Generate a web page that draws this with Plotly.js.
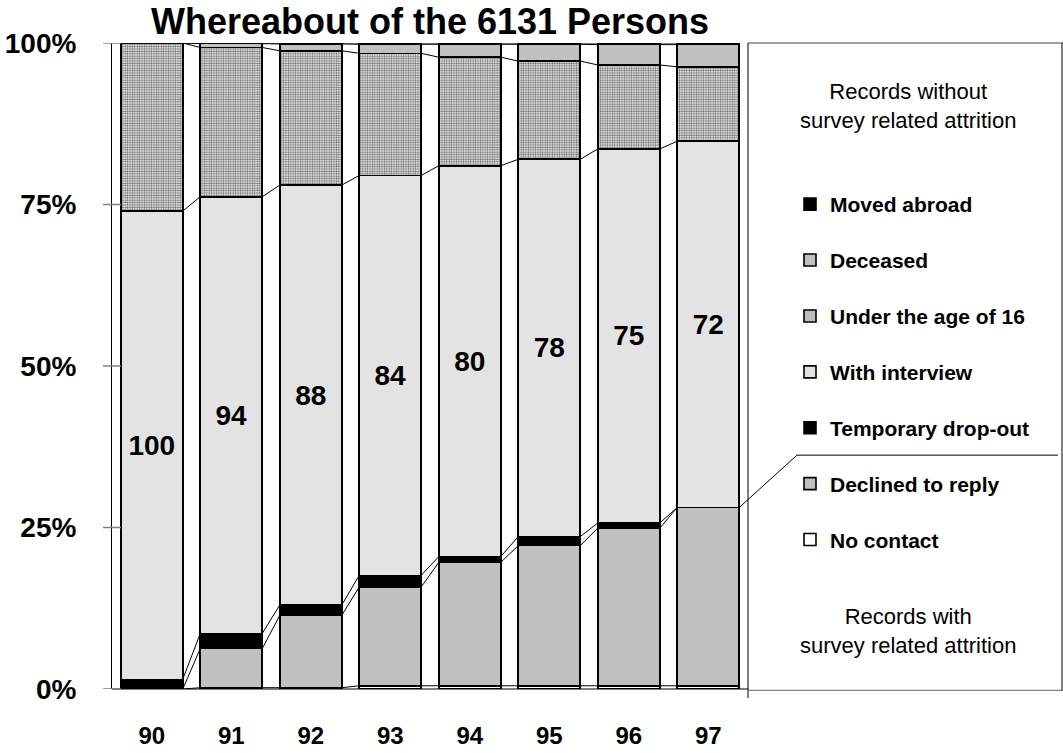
<!DOCTYPE html>
<html>
<head>
<meta charset="utf-8">
<script src="https://cdn.plot.ly/plotly-3.0.1.min.js"></script>
<style>html,body{margin:0;padding:0;background:#fff;}#chart{width:1063px;height:753px;}</style>
</head>
<body>
<div id="chart"></div>
<script>
// ---- data (percent of the 6131 persons) ----
var years = ['90', '91', '92', '93', '94', '95', '96', '97'];
var noContact      = [0, 0.2, 0.2, 0.5, 0.5, 0.5, 0.5, 0.5];
var declined       = [0, 6.05, 11.2, 15.3, 19.1, 21.7, 24.4, 27.6];
var tempDropOut    = [1.5, 2.35, 1.6, 1.8, 0.9, 1.4, 0.8, 0];
var withInterview  = [72.5, 67.6, 65.0, 61.9, 60.5, 58.4, 57.9, 56.7];
var under16        = [26.0, 23.1, 20.8, 18.9, 16.8, 15.2, 13.0, 11.5];
var deceased       = [0, 0.6, 1.05, 1.4, 2.0, 2.6, 3.15, 3.45];
var movedAbroad    = [0, 0.1, 0.15, 0.2, 0.2, 0.2, 0.25, 0.25];
var interviewLabels = ['100', '94', '88', '84', '80', '78', '75', '72'];
var yTickVals  = [0, 25, 50, 75, 100];
var yTickText  = ['0%', '25%', '50%', '75%', '100%'];

var FONT = 'Liberation Sans, Arial, sans-serif';
var BARW = 0.78;
var xIdx = years.map(function (_, i) { return i; });

var seriesDefs = [
  {name: 'No contact', v: noContact, color: '#ffffff'},
  {name: 'Declined to reply', v: declined, color: '#c0c0c0'},
  {name: 'Temporary drop-out', v: tempDropOut, color: '#000000'},
  {name: 'With interview', v: withInterview, color: '#e3e3e3', text: interviewLabels},
  {name: 'Under the age of 16', v: under16, color: '#ffffff', pattern: true},
  {name: 'Deceased', v: deceased, color: '#c0c0c0'},
  {name: 'Moved abroad', v: movedAbroad, color: '#000000'}
];

var traces = [];
var cum = years.map(function () { return 0; });
var tops = [];
seriesDefs.forEach(function (s, k) {
  var t = {
    type: 'bar', x: xIdx, y: s.v, name: s.name, width: BARW,
    legendgroup: 'g' + k, legendrank: 100 * (seriesDefs.length - k),
    marker: {color: s.color, line: {color: '#000', width: 1.6}},
    hoverinfo: 'skip'
  };
  if (s.pattern) {
    t.marker.pattern = {shape: '.', size: 2.4, solidity: 0.5, fgcolor: '#6a6a6a', bgcolor: '#ffffff', fillmode: 'replace'};
  }
  if (s.text) {
    t.text = s.text;
    t.textposition = 'inside';
    t.insidetextanchor = 'middle';
    t.textangle = 0;
    t.constraintext = 'none';
    t.insidetextfont = {family: FONT, size: 28, color: '#000', weight: 'bold'};
  } else {
    t.textposition = 'none';
  }
  traces.push(t);
  cum = cum.map(function (c, i) { return c + s.v[i]; });
  tops.push(cum.slice());
});

// series connector lines (top of each segment, bar to bar)
tops.forEach(function (top) {
  var lx = [], ly = [];
  for (var i = 0; i < years.length - 1; i++) {
    lx.push(i + BARW / 2, i + 1 - BARW / 2, null);
    ly.push(top[i], top[i + 1], null);
  }
  traces.push({type: 'scatter', mode: 'lines', x: lx, y: ly, showlegend: false,
    hoverinfo: 'skip', line: {color: '#000', width: 1}, cliponaxis: false});
});

var n = years.length;
var pxL = 112, pxR = 748, figW = 1063;
var pW = pxR - pxL;
function px2paper(px) { return (px - pxL) / pW; }

var declinedTop = tops[1];
var shapes = [];
// y tick marks crossing the axis
yTickVals.forEach(function (v) {
  shapes.push({type: 'line', xref: 'paper', yref: 'y', x0: px2paper(103), x1: px2paper(121), y0: v, y1: v,
    line: {color: '#808080', width: 1.5}});
});
// legend box
shapes.push({type: 'line', xref: 'paper', yref: 'paper', x0: 1, x1: px2paper(figW), y0: 1, y1: 1, line: {color: '#808080', width: 1.5}});
shapes.push({type: 'line', xref: 'paper', yref: 'paper', x0: 1, x1: 1, y0: -0.014, y1: 1, line: {color: '#000', width: 1}});
shapes.push({type: 'line', xref: 'paper', yref: 'paper', x0: 1, x1: px2paper(figW), y0: -0.002, y1: -0.002, line: {color: '#606060', width: 1}});
shapes.push({type: 'line', xref: 'paper', yref: 'paper', x0: px2paper(figW - 1), x1: px2paper(figW - 1), y0: -0.002, y1: 1, line: {color: '#000', width: 1}});
// legend separator and pointer to last bar
var sepY = 36.2;
shapes.push({type: 'line', xref: 'paper', yref: 'y', x0: px2paper(797), x1: px2paper(1058), y0: sepY, y1: sepY, line: {color: '#000', width: 1}});
shapes.push({type: 'line', xref: 'paper', yref: 'y', x0: (n - 1 + BARW / 2 + 0.5) / n, x1: px2paper(797),
  y0: declinedTop[n - 1], y1: sepY, line: {color: '#000', width: 1}});

var annotations = [
  {text: 'Records without<br>survey related attrition', xref: 'paper', yref: 'paper', x: px2paper(908), y: (689 - 106) / 646,
    xanchor: 'center', yanchor: 'middle',
    showarrow: false, font: {family: FONT, size: 22, color: '#000'}, align: 'center'},
  {text: 'Records with<br>survey related attrition', xref: 'paper', yref: 'paper', x: px2paper(908), y: (689 - 631) / 646,
    xanchor: 'center', yanchor: 'middle',
    showarrow: false, font: {family: FONT, size: 22, color: '#000'}, align: 'center'}
];

var layout = {
  width: 1063, height: 753,
  margin: {l: pxL, r: figW - pxR, t: 43, b: 64},
  paper_bgcolor: '#fff', plot_bgcolor: '#fff',
  barmode: 'stack',
  title: {text: 'Whereabout of the 6131 Persons', xref: 'paper', x: 0.5, xanchor: 'center',
    yref: 'container', y: 0.972, yanchor: 'middle',
    font: {family: FONT, size: 36, color: '#000', weight: 'bold'}},
  xaxis: {range: [-0.5, n - 0.5], tickvals: xIdx, ticktext: years, showgrid: false, zeroline: false,
    showline: false, ticks: '', ticklabelstandoff: 30,
    tickfont: {family: FONT, size: 24, color: '#000', weight: 'bold'}, fixedrange: true},
  yaxis: {range: [0, 100], tickvals: yTickVals, ticktext: yTickText, showgrid: false, zeroline: true,
    zerolinecolor: '#808080', zerolinewidth: 1.5, showline: true, linecolor: '#000', linewidth: 1,
    ticks: '', ticklabelstandoff: 29,
    tickfont: {family: FONT, size: 28, color: '#000', weight: 'bold'}, fixedrange: true},
  showlegend: true,
  legend: {x: px2paper(790), xanchor: 'left', y: (689 - 184) / 646, yanchor: 'top',
    traceorder: 'grouped', tracegroupgap: 25.6, bgcolor: 'rgba(0,0,0,0)',
    font: {family: FONT, size: 21, color: '#000', weight: 'bold'}},
  shapes: shapes,
  annotations: annotations
};

Plotly.newPlot('chart', traces, layout, {displayModeBar: false, staticPlot: true});
</script>
</body>
</html>
